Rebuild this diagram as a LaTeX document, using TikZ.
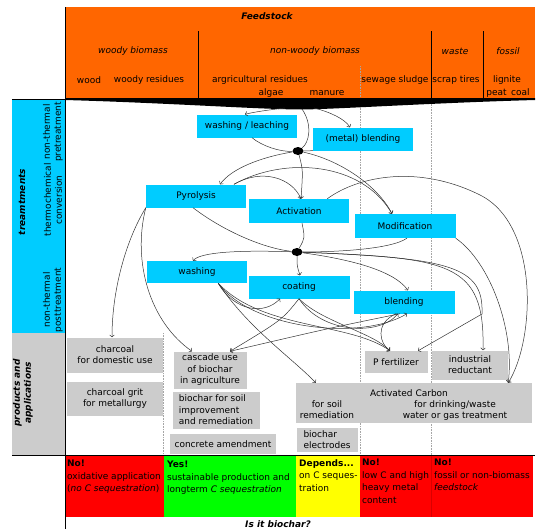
\documentclass[tikz,border=0pt]{standalone}
\usepackage{fontspec}
\setmainfont{DejaVu Sans}[ItalicFont={DejaVu Sans Oblique},BoldFont={DejaVu Sans Bold},BoldItalicFont={DejaVu Sans Bold Oblique}]
\usetikzlibrary{arrows.meta,calc,shapes.geometric}
\definecolor{orng}{HTML}{FF6600}
\definecolor{cyanb}{HTML}{00CCFF}
\definecolor{grayb}{HTML}{CCCCCC}
\definecolor{redb}{HTML}{FF0000}
\definecolor{greenb}{HTML}{00FF00}
\definecolor{yellowb}{HTML}{FFFF00}
\definecolor{lnk}{HTML}{333333}
\newcommand\nf{\fontsize{9}{11}\selectfont}
\begin{document}
\begin{tikzpicture}[x=1pt,y=-1pt,
  every node/.style={font=\nf, inner sep=0pt, text=black},
  treat/.style={fill=cyanb, minimum width=100pt, minimum height=23pt},
  prod/.style={fill=grayb, align=center},
  junct/.style={ellipse, fill=black, minimum width=11pt, minimum height=8pt},
  link/.style={draw=lnk, line width=0.5pt},
  arr/.style={link, -{To[length=2.6pt,width=5pt]}},
  cell/.style={anchor=north west, align=left, font=\fontsize{9}{12.6}\selectfont},
  sep/.style={draw=gray!70, densely dotted, line width=0.6pt}
]
\useasboundingbox (0,0) rectangle (550,530);
% backgrounds
\fill[orng] (65,7) rectangle (535,99);
\fill[cyanb] (12,99) rectangle (65,333);
\fill[grayb] (12,333) rectangle (65,455);
\fill[redb] (65,455) rectangle (164,517);
\fill[greenb] (164,455) rectangle (296,517);
\fill[yellowb] (296,455) rectangle (360,517);
\fill[redb] (360,455) rectangle (431,517);
\fill[redb] (431,455) rectangle (533,517);
\draw[redb!85!black, line width=0.3pt] (431,455) -- (431,517);
% dotted separators
\draw[sep] (360,66) -- (360,455);
\draw[sep] (431,99) -- (431,455);
\draw[sep] (163,333) -- (163,455);
% orange dividers
\draw[line width=0.6pt] (198,31) -- (198,99);
\draw[line width=0.6pt] (431,31) -- (431,99);
\draw[line width=0.6pt] (483,31) -- (483,99);
% funnel
\fill[black] (65,98) -- (535,98) -- (535,100) .. controls (430,103) and (340,109) .. (302,109.5)
   .. controls (262,109.5) and (170,103) .. (65,100) -- cycle;
% frame lines
\draw[line width=1pt] (12,99) -- (535,99);
\draw[line width=1pt] (12,455) -- (535,455);
\draw[line width=1pt] (65,7) -- (65,529);

% feedstock texts
\node[font=\nf\bfseries\itshape] (feed) at (267,16) {Feedstock};
\node[font=\nf\itshape] (woody) at (133,51) {woody biomass};
\node[font=\nf\itshape] (nonwoody) at (315,51) {non-woody biomass};
\node[font=\nf\itshape] (waste) at (455,51) {waste};
\node[font=\nf\itshape] (fossil) at (508,51) {fossil};
\node (wood) at (89,80) {wood};
\node (woodyres) at (149,80) {woody residues};
\node (agri) at (260,80) {argricultural residues};
\node (algae) at (271,93) {algae};
\node (manure) at (327,93) {manure};
\node (sewage) at (395,80) {sewage sludge};
\node (scrap) at (456,80) {scrap tires};
\node (lignite) at (507,80) {lignite};
\node (peat) at (508,93) {peat\enspace coal};

% left column
\node[rotate=90, font=\nf\bfseries\itshape] (treat) at (22,202) {treamtments};
\node[rotate=90, align=center] (pre) at (53,132) {non-thermal\\pretreatment};
\node[rotate=90, align=center] (conv) at (53,200) {thermochemical\\conversion};
\node[rotate=90, align=center] (post) at (53,300) {non-thermal\\posttreatment};
\node[rotate=90, align=center, font=\nf\bfseries\itshape] (prodapp) at (23,393) {products and\\applications};

% treatment nodes
\node[treat] (wl) at (247,126) {washing / leaching};
\node[treat] (mb) at (363,139) {(metal) blending};
\node[junct] (d1) at (298,151) {};
\node[treat] (pyr) at (196,196) {Pyrolysis};
\node[treat, minimum height=24pt] (act) at (299,211) {Activation};
\node[treat, minimum width=101pt, minimum height=24pt] (mod) at (405,226) {Modification};
\node[junct] (d2) at (297,252) {};
\node[treat, minimum height=22pt] (wash) at (197,272) {washing};
\node[treat, minimum width=101pt] (coat) at (299,287) {coating};
\node[treat, minimum width=101pt] (blend) at (404,302) {blending};

% products
\node[prod, minimum width=96pt, minimum height=35pt] (charc) at (115,355) {charcoal\\for domestic use};
\node[prod, minimum width=96pt, minimum height=34pt] (grit) at (115,399) {charcoal grit\\for metallurgy};
\node[prod, minimum width=73pt, minimum height=37pt, font=\fontsize{9}{11.5}\selectfont] (casc) at (210,370) {cascade use\\of biochar\\in agriculture};
\node[fill=grayb, align=left, minimum width=87pt, minimum height=37pt, font=\fontsize{9}{11.5}\selectfont] (soil) at (216,410) {biochar for soil\\improvement\\and remediation};
\node[prod, minimum width=106pt, minimum height=20pt] (concr) at (223,444) {concrete amendment};
\node[prod, minimum width=63pt, minimum height=22pt] (pfert) at (396,362) {P fertilizer};
\node[prod, minimum width=76pt, minimum height=29pt] (indred) at (470,365) {industrial\\reductant};
\node[prod, minimum width=236pt, minimum height=40pt] (ac) at (414,403) {};
\node (actitle) at (409,393) {Activated Carbon};
\node[align=center] (acsoil) at (327,410) {for soil\\remediation};
\node[align=center] (acwater) at (455,411) {for drinking/waste\\water or gas treatment};
\node[fill=grayb, align=left, minimum width=61pt, minimum height=24pt] (elec) at (327,440) {biochar\\electrodes};

% bottom row
\node[cell] (c1) at (67,460) {\textbf{No!}\\oxidative application\\(\textit{no C sequestration})};
\node[cell] (c2) at (167,461) {\textbf{Yes!}\\sustainable production and\\longterm \textit{C sequestration}};
\node[cell] (c3) at (299,459) {\textbf{Depends...}\\on C seques-\\tration};
\node[cell] (c4) at (362,459) {\textbf{No!}\\low C and high\\heavy metal\\content};
\node[cell] (c5) at (434,459) {\textbf{No!}\\fossil or non-biomass\\\textit{feedstock}};
\node[font=\nf\bfseries\itshape] (isit) at (278,524) {Is it biochar?};

% connectors: feedstock to pretreatment
\coordinate (fa) at (285,108);
\coordinate (fb) at (302,109);
\coordinate (fc) at (314,108);
\draw[arr] (fa) .. controls (268,110) and (254,112) .. ([xshift=-2pt]wl.north);
\draw[arr] (fc) .. controls (330,112) and (345,119) .. ([xshift=-13pt]mb.north);
\draw[link] (fb) .. controls (313,125) and (309,143) .. (d1);
\draw[link] ([xshift=5pt]wl.south) .. controls (262,146) and (280,152) .. (d1);
\draw[link] (mb.south west) -- (d1);
% junction 1
\draw[arr] (d1) .. controls (262,157) and (232,168) .. ([xshift=24pt]pyr.north);
\draw[arr] (d1) .. controls (303,170) .. ([xshift=2pt]act.north);
\draw[arr] (d1) .. controls (340,160) and (378,186) .. ([xshift=-13pt]mod.north);
% pyrolysis
\draw[arr] ([xshift=38pt]pyr.north) .. controls (262,168) and (292,178) .. ([xshift=2pt]act.north);
\draw[arr] ([xshift=38pt]pyr.north) .. controls (285,156) and (362,162) .. ([xshift=-13pt]mod.north);
\draw[arr] (pyr.south west) .. controls (126,240) and (112,290) .. ([xshift=-3pt]charc.north);
\draw[arr] (pyr.south west) .. controls (132,262) and (150,322) .. ([xshift=-18pt]casc.north);
\draw[link] ([xshift=-3pt]pyr.south) .. controls (222,230) and (262,248) .. (d2);
% activation / modification
\draw[arr] ([xshift=-22pt]act.north east) .. controls (360,175) and (420,165) .. (480,195)
   .. controls (540,225) and (535,340) .. ([xshift=-24pt]ac.north east);
\draw[arr] (mod.south east) .. controls (490,262) and (515,330) .. ([xshift=-24pt]ac.north east);
\draw[link] ([xshift=3pt]act.south) .. controls (305,238) .. (d2);
\draw[link] ([xshift=2pt]mod.south) .. controls (390,250) and (330,252) .. (d2);
% junction 2
\draw[arr] (d2) .. controls (240,250) and (200,252) .. ([xshift=-4pt]wash.north);
\draw[arr] (d2) .. controls (297,266) .. ([xshift=1pt]coat.north);
\draw[arr] (d2) .. controls (340,258) and (392,268) .. ([xshift=4pt]blend.north);
\draw[arr] (d2) .. controls (450,258) and (485,262) .. ([xshift=13pt]indred.north);
\draw[arr] (d2) .. controls (450,258) and (484,266) .. (482,314) -- ([xshift=22pt]pfert.north);
% washing
\coordinate (wbr) at ([xshift=-29pt]wash.south east);
\draw[arr] (wbr) .. controls (235,312) and (265,315) .. ([xshift=-19pt]coat.south);
\draw[arr] (wbr) .. controls (250,328) and (360,342) .. ([xshift=3pt]blend.south);
\draw[arr] (wbr) .. controls (262,330) and (350,322) .. ([xshift=-6pt]pfert.north);
\draw[arr] (wbr) .. controls (248,328) and (292,358) .. ([xshift=20pt]ac.north west);
% coating
\draw[arr] (coat.south) .. controls (282,320) .. ([xshift=20pt]casc.north);
\draw[arr] (coat.south) .. controls (322,322) and (372,332) .. ([xshift=-6pt]pfert.north);
\draw[arr] (coat.south) .. controls (322,334) and (380,336) .. ([xshift=-6pt]blend.south);
% blending
\draw[arr] ([xshift=-4pt]blend.south) .. controls (330,328) .. ([xshift=20pt]casc.north);
\draw[arr] ([xshift=-8pt]blend.south) .. controls (374,324) and (380,344) .. ([xshift=-6pt]pfert.north);
\end{tikzpicture}
\end{document}
